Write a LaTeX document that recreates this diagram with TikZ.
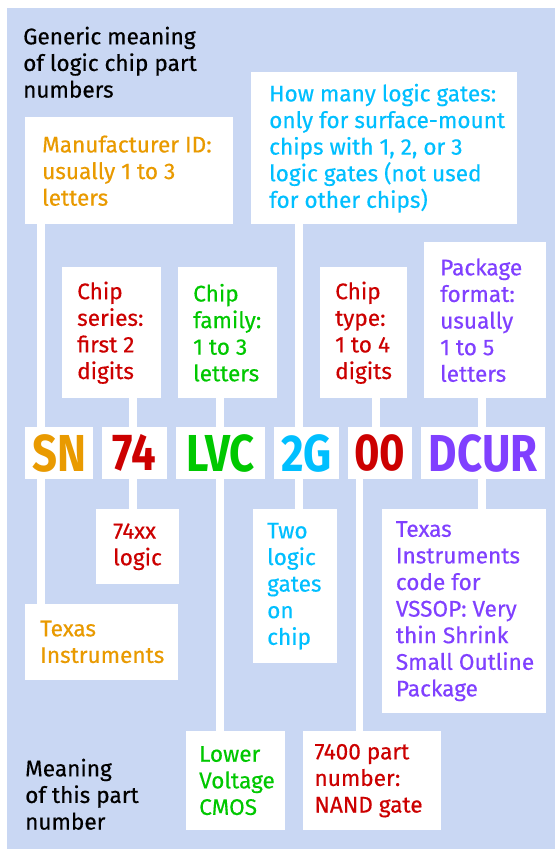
\documentclass[tikz,border=0pt]{standalone}
\usepackage{fontspec}
\setmainfont{Fira Sans}
\newfontfamily\medfont{Fira Sans}[FakeBold=0.4]
\definecolor{bgblue}{HTML}{C9D7F3}
\definecolor{corange}{HTML}{E99A00}
\definecolor{cred}{HTML}{CC0000}
\definecolor{cgreen}{HTML}{00C800}
\definecolor{ccyan}{HTML}{00BFFF}
\definecolor{cpurple}{HTML}{8040FF}
\begin{document}
\begin{tikzpicture}[x=1pt,y=-1pt,
  box/.style={fill=white, draw=none, inner sep=0pt, anchor=north west},
  lbl/.style={anchor=west, align=left, inner sep=0pt, font=\medfont\fontsize{22.6}{26.6}\selectfont},
  big/.style={fill=white, inner sep=0pt, anchor=north west, minimum height=52pt, font=\fontsize{52}{52}\selectfont\bfseries},
  link/.style={draw=white, line width=7.8pt},
  title/.style={anchor=north west, align=left, inner sep=0pt, font=\medfont\fontsize{22.6}{26.6}\selectfont}
]
\useasboundingbox (0,0) rectangle (555,849);
\fill[white] (0,0) rectangle (555,849);
\fill[bgblue] (7,8) rectangle (555,848.5);

% titles
\node[title] (gen) at (23,26.5) {Generic meaning\\of logic chip part\\numbers};
\node[title] (mean) at (25,758.5) {Meaning\\of this part\\number};

% upper boxes
\node[box, minimum width=208pt, minimum height=107pt] (mfr) at (25,117) {};
\node[box, minimum width=266pt, minimum height=152pt] (how) at (251,72) {};
\node[box, minimum width=99pt, minimum height=131pt] (ser) at (62,267) {};
\node[box, minimum width=99pt, minimum height=131pt] (fam) at (178,267) {};
\node[box, minimum width=87pt, minimum height=131pt] (typ) at (320,267) {};
\node[box, minimum width=122pt, minimum height=156pt] (pkg) at (424,242) {};

% row
\node[big, minimum width=68pt, text=corange] (sn) at (25,427) {\scalebox{0.84}[1]{SN}};
\node[big, minimum width=65pt, text=cred] (n74) at (101.7,427) {\scalebox{0.84}[1]{74}};
\node[big, minimum width=89pt, text=cgreen] (lvc) at (176,427) {\scalebox{0.84}[1]{LVC}};
\node[big, minimum width=65pt, text=ccyan] (g2) at (273.8,427) {\scalebox{0.84}[1]{2G}};
\node[big, minimum width=64.5pt, text=cred] (n00) at (347.3,427) {\scalebox{0.84}[1]{00}};
\node[big, minimum width=124.5pt, text=cpurple] (dcur) at (420.7,427) {\scalebox{0.84}[1]{DCUR}};

% lower boxes
\node[box, minimum width=82.5pt, minimum height=75pt] (lg) at (96,509) {};
\node[box, minimum width=152.5pt, minimum height=75.5pt] (ti) at (25,604) {};
\node[box, minimum width=83.5pt, minimum height=154pt] (two) at (253,509) {};
\node[box, minimum width=164pt, minimum height=204pt] (tic) at (381.7,509) {};
\node[box, minimum width=99pt, minimum height=99.5pt] (lv) at (186,730.7) {};
\node[box, minimum width=138.5pt, minimum height=99.5pt] (nand) at (302.3,730.7) {};

% connector x positions
\coordinate (xa) at (41,0);
\coordinate (xb) at (133,0);
\coordinate (xc) at (220,0);
\coordinate (xd) at (299,0);
\coordinate (xe) at (376,0);
\coordinate (xf) at (359.5,0);
\coordinate (xg) at (482,0);

\draw[link] (mfr.south -| xa) -- (sn.north -| xa);
\draw[link] (how.south -| xd) -- (g2.north -| xd);
\draw[link] (ser.south -| xb) -- (n74.north -| xb);
\draw[link] (fam.south -| xc) -- (lvc.north -| xc);
\draw[link] (typ.south -| xe) -- (n00.north -| xe);
\draw[link] (pkg.south -| xg) -- (dcur.north -| xg);
\draw[link] (sn.south -| xa) -- (ti.north -| xa);
\draw[link] (n74.south -| xb) -- (lg.north -| xb);
\draw[link] (lvc.south -| xc) -- (lv.north -| xc);
\draw[link] (g2.south -| xd) -- (two.north -| xd);
\draw[link] (n00.south -| xf) -- (nand.north -| xf);
\draw[link] (dcur.south -| xg) -- (tic.north -| xg);

% texts
\node[lbl, text=corange] (mfrT) at ([xshift=17pt]mfr.west) {Manufacturer ID:\\usually 1 to 3\\letters};
\node[lbl, text=ccyan] (howT) at ([xshift=18pt]how.west) {How many logic gates:\\only for surface-mount\\chips with 1, 2, or 3\\logic gates (not used\\for other chips)};
\node[lbl, text=cred] (serT) at ([xshift=15pt]ser.west) {Chip\\series:\\first 2\\digits};
\node[lbl, text=cgreen] (famT) at ([xshift=15pt]fam.west) {Chip\\family:\\1 to 3\\letters};
\node[lbl, text=cred] (typT) at ([xshift=15pt]typ.west) {Chip\\type:\\1 to 4\\digits};
\node[lbl, text=cpurple] (pkgT) at ([xshift=16pt]pkg.west) {Package\\format:\\usually\\1 to 5\\letters};
\node[lbl, text=cred] (lgT) at ([xshift=17pt]lg.west) {74xx\\logic};
\node[lbl, text=corange] (tiT) at ([xshift=15pt]ti.west) {Texas\\Instruments};
\node[lbl, text=ccyan] (twoT) at ([xshift=14pt]two.west) {Two\\logic\\gates\\on\\chip};
\node[lbl, text=cpurple] (ticT) at ([xshift=14pt]tic.west) {Texas\\Instruments\\code for\\VSSOP: Very\\thin Shrink\\Small Outline\\Package};
\node[lbl, text=cgreen] (lvT) at ([xshift=13pt]lv.west) {Lower\\Voltage\\CMOS};
\node[lbl, text=cred] (nandT) at ([xshift=12pt]nand.west) {7400 part\\number:\\NAND gate};
\end{tikzpicture}
\end{document}
